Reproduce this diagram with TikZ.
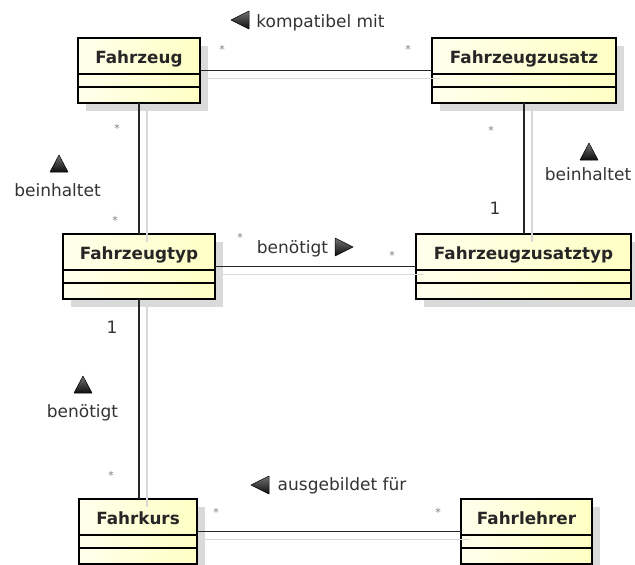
\documentclass[tikz,border=0pt]{standalone}
\usepackage{fontspec}
\setmainfont{DejaVu Sans}
\definecolor{boxleft}{HTML}{FFFFEC}
\definecolor{boxright}{HTML}{FFFFC4}
\definecolor{boxshade}{HTML}{DADADA}
\definecolor{lineshade}{HTML}{D8D8D8}
\definecolor{labeltext}{HTML}{333333}

% One UML class: #1 name, #2 left, #3 top, #4 width, #5 class name
\newcommand\umlclass[5]{%
  \fill[boxshade] (#2+8,#3+8) rectangle (#2+#4+8,#3+73);
  \node[classbox, minimum width=#4pt, anchor=north west] (#1) at (#2,#3) {};
  \draw[compsep] ([yshift=-36pt]#1.north west) -- ([yshift=-36pt]#1.north east);
  \draw[compsep] ([yshift=-49pt]#1.north west) -- ([yshift=-49pt]#1.north east);
  \node[classname, anchor=base] (#1-t) at ([yshift=-25pt]#1.north) {#5};
}
% Reading-direction triangles centred on (#1,#2)
\newcommand\dirup[2]{\shade[dirtri] (#1-9,#2+8) -- (#1+9,#2+8) -- (#1,#2-9) -- cycle;}
\newcommand\dirleft[2]{\shade[dirtri] (#1+9,#2-9) -- (#1+9,#2+9) -- (#1-9,#2) -- cycle;}
\newcommand\dirright[2]{\shade[dirtri] (#1-9,#2-9) -- (#1-9,#2+9) -- (#1+9,#2) -- cycle;}

\begin{document}
\begin{tikzpicture}[x=1pt,y=-1pt,
  classbox/.style={draw=black, line width=2.6pt, left color=boxleft, right color=boxright,
    minimum height=65pt, inner sep=0pt, outer sep=0pt},
  compsep/.style={line width=1.3pt, black},
  classname/.style={font=\fontsize{16.8}{20}\selectfont\bfseries, text=black!85, inner sep=0pt},
  lbl/.style={font=\fontsize{17}{20}\selectfont, text=labeltext, inner sep=0pt},
  mult/.style={font=\fontsize{11}{12}\selectfont, text=gray, inner sep=0pt, anchor=base},
  assoc/.style={line width=1.4pt, black!85},
  assocshade/.style={line width=1.2pt, lineshade},
  dirtri/.style={top color=black!55, bottom color=black!95, draw=black, line width=0.5pt, line join=round}]
\useasboundingbox (0,0) rectangle (635,565);

% classes
\umlclass{fz}{78}{38}{122}{Fahrzeug}
\umlclass{fzz}{432}{38}{184}{Fahrzeugzusatz}
\umlclass{fzt}{63}{234}{152}{Fahrzeugtyp}
\umlclass{fzzt}{416}{234}{215}{Fahrzeugzusatztyp}
\umlclass{fk}{79}{499}{118}{Fahrkurs}
\umlclass{fl}{461}{499}{131}{Fahrlehrer}

% soft shadows of the associations
\begin{scope}[transform canvas={xshift=8pt,yshift=-8pt}]
  \draw[assocshade] (fz.east) -- (fzz.west);
  \draw[assocshade] (fz.south) -- (fz.south |- fzt.north);
  \draw[assocshade] (fzz.south) -- (fzz.south |- fzzt.north);
  \draw[assocshade] (fzt.east) -- (fzzt.west);
  \draw[assocshade] (fzt.south) -- (fzt.south |- fk.north);
  \draw[assocshade] (fk.east) -- (fl.west);
\end{scope}

% associations
\draw[assoc] (fz.east) -- (fzz.west);
\draw[assoc] (fz.south) -- (fz.south |- fzt.north);
\draw[assoc] (fzz.south) -- (fzz.south |- fzzt.north);
\draw[assoc] (fzt.east) -- (fzzt.west);
\draw[assoc] (fzt.south) -- (fzt.south |- fk.north);
\draw[assoc] (fk.east) -- (fl.west);

% Fahrzeug -- Fahrzeugzusatz
\dirleft{240}{20}
\node[lbl, anchor=base] (n1) at (320.5,27) {kompatibel mit};
\node[mult] (m1a) at (222,53) {*};
\node[mult] (m1b) at (408,53) {*};

% Fahrzeug -- Fahrzeugtyp
\dirup{59}{164}
\node[lbl, anchor=base] (n2) at (57.5,196) {beinhaltet};
\node[mult] (m2a) at (117,132) {*};
\node[mult] (m2b) at (115,224) {*};

% Fahrzeugzusatz -- Fahrzeugzusatztyp
\dirup{589}{152}
\node[lbl, anchor=base] (n3) at (588,180) {beinhaltet};
\node[mult] (m3a) at (491,134) {*};
\node[lbl, anchor=base] (m3b) at (495,214) {1};

% Fahrzeugtyp -- Fahrzeugzusatztyp
\node[lbl, anchor=base] (n4) at (292.5,253) {benötigt};
\dirright{344}{247}
\node[mult] (m4a) at (240,241) {*};
\node[mult] (m4b) at (392,259) {*};

% Fahrzeugtyp -- Fahrkurs
\node[lbl, anchor=base] (m5a) at (112,333) {1};
\dirup{83}{385}
\node[lbl, anchor=base] (n5) at (82.5,417) {benötigt};
\node[mult] (m5b) at (111,479) {*};

% Fahrkurs -- Fahrlehrer
\dirleft{260}{485}
\node[lbl, anchor=base] (n6) at (342,490) {ausgebildet für};
\node[mult] (m6a) at (216,516) {*};
\node[mult] (m6b) at (438,516) {*};
\end{tikzpicture}
\end{document}
